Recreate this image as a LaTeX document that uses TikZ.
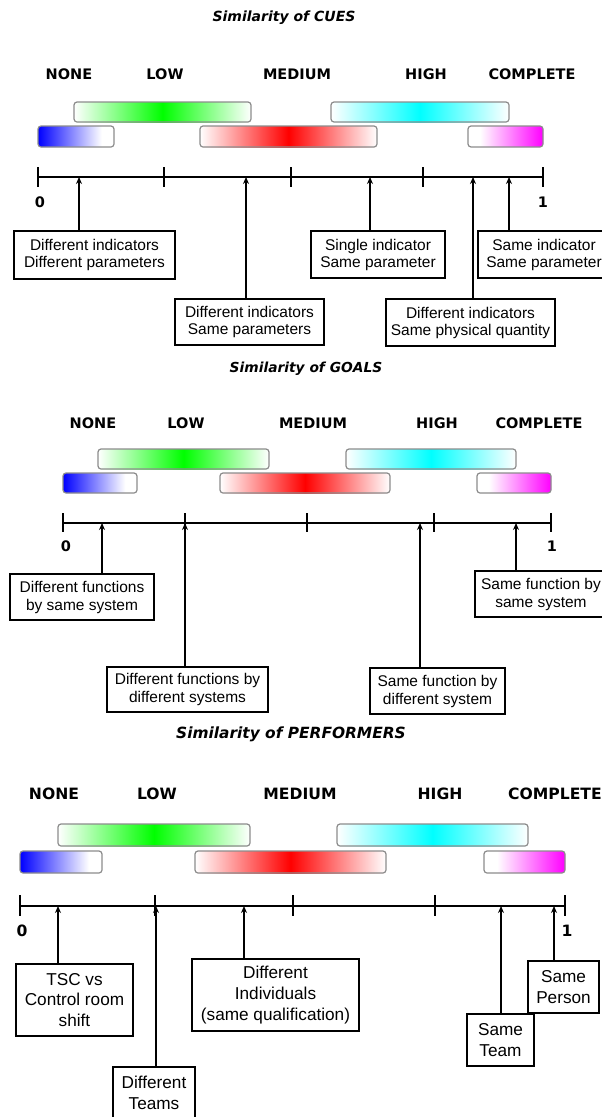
\documentclass[tikz,border=0pt]{standalone}
\usepackage{fontspec}
\setmainfont{Liberation Sans}
\newfontfamily\dvs{DejaVu Sans}
\usetikzlibrary{arrows.meta}
\pgfdeclarehorizontalshading{gshade}{100bp}{color(0bp)=(white); color(25bp)=(white); color(50bp)=(green); color(75bp)=(white); color(100bp)=(white)}
\pgfdeclarehorizontalshading{cshade}{100bp}{color(0bp)=(white); color(25bp)=(white); color(50bp)=(cyan); color(75bp)=(white); color(100bp)=(white)}
\pgfdeclarehorizontalshading{rshade}{100bp}{color(0bp)=(white); color(25bp)=(white); color(50bp)=(red); color(75bp)=(white); color(100bp)=(white)}
\pgfdeclarehorizontalshading{bshade}{100bp}{color(0bp)=(blue); color(25bp)=(blue); color(67bp)=(white); color(100bp)=(white)}
\pgfdeclarehorizontalshading{mshade}{100bp}{color(0bp)=(white); color(33bp)=(white); color(75bp)=(magenta); color(100bp)=(magenta)}
\tikzset{
  bar/.style={draw=black!45, line width=1.2pt, rounded corners=3pt},
  axisline/.style={line width=1.6pt},
  tick/.style={line width=1.4pt},
  arr/.style={line width=1.6pt, -{Stealth[length=7pt,width=6pt]}},
  box/.style={draw, line width=1.7pt, align=center, inner sep=0pt, fill=white},
  boxa/.style={box, font=\fontsize{15.5}{17}\selectfont},
  boxb/.style={box, font=\fontsize{15.5}{18}\selectfont},
  boxc/.style={box, font=\fontsize{17.2}{20.8}\selectfont},
  lab/.style={font=\dvs\bfseries\fontsize{14.5}{16}\selectfont, inner sep=0pt},
  labc/.style={font=\dvs\bfseries\fontsize{15.6}{17}\selectfont, inner sep=0pt},
  ttl/.style={font=\dvs\bfseries\itshape\fontsize{14}{16}\selectfont, inner sep=0pt},
  ttlb/.style={font=\dvs\bfseries\itshape\fontsize{13.8}{16}\selectfont, inner sep=0pt},
  ttlc/.style={font=\dvs\bfseries\itshape\fontsize{15.4}{17}\selectfont, inner sep=0pt},
}
\begin{document}
\begin{tikzpicture}[x=1pt,y=-1pt]
\useasboundingbox (0,0) rectangle (602,1117);
\clip (0,0) rectangle (602,1117);
\fill[white] (0,0) rectangle (602,1117);

% ================= Panel 1: CUES =================
\node[ttl] (t1) at (284,18) {Similarity of CUES};
\node[lab] (n1) at (69,74) {NONE};
\node[lab] (l1) at (165,74) {LOW};
\node[lab] (m1) at (297,74) {MEDIUM};
\node[lab] (h1) at (426,74) {HIGH};
\node[lab] (k1) at (532,74) {COMPLETE};
\shade[shading=gshade] (74,102) rectangle (251,122);
\draw[bar] (74,102) rectangle (251,122);
\shade[shading=cshade] (331,102) rectangle (509,122);
\draw[bar] (331,102) rectangle (509,122);
\shade[shading=bshade, rounded corners=3pt] (38,126) rectangle (114,147);
\draw[bar] (38,126) rectangle (114,147);
\shade[shading=rshade] (200,126) rectangle (377,147);
\draw[bar] (200,126) rectangle (377,147);
\shade[shading=mshade, rounded corners=3pt] (468,126) rectangle (543,147);
\draw[bar] (468,126) rectangle (543,147);
\coordinate (s1) at (38,177);
\coordinate (e1) at (543,177);
\draw[axisline] (s1) -- (e1);
\foreach \x in {38,164,291,423,543} \draw[tick] (\x,167) -- (\x,187);
\node[lab] (z1) at (40,202) {0};
\node[lab] (o1) at (543,202) {1};
\coordinate (xa) at (79,177);
\coordinate (xb) at (246,177);
\coordinate (xc) at (370,177);
\coordinate (xd) at (509,177);
\coordinate (xe) at (473,177);
\node[boxa, minimum width=161pt, minimum height=48pt] (c1a) at (94.5,255) {Different indicators\\Different parameters};
\node[boxa, minimum width=149pt, minimum height=46pt] (c1b) at (249.5,322) {Different indicators\\Same parameters};
\node[boxa, minimum width=134pt, minimum height=47pt] (c1c) at (378,254.5) {Single indicator\\Same parameter};
\node[boxa, minimum width=132pt, minimum height=47pt] (c1d) at (544,254.5) {Same indicator\\Same parameter};
\node[boxa, minimum width=169pt, minimum height=47pt] (c1e) at (470.5,322.5) {Different indicators\\Same physical quantity};
\draw[arr] (c1a.north -| xa) -- (xa);
\draw[arr] (c1b.north -| xb) -- (xb);
\draw[arr] (c1c.north -| xc) -- (xc);
\draw[arr] (c1d.north -| xd) -- (xd);
\draw[arr] (c1e.north -| xe) -- (xe);

% ================= Panel 2: GOALS =================
\node[ttlb] (t2) at (306,369) {Similarity of GOALS};
\node[lab] (n2) at (93,423) {NONE};
\node[lab] (l2) at (186,423) {LOW};
\node[lab] (m2) at (313,423) {MEDIUM};
\node[lab] (h2) at (437,423) {HIGH};
\node[lab] (k2) at (539,423) {COMPLETE};
\shade[shading=gshade] (98,449) rectangle (269,469);
\draw[bar] (98,449) rectangle (269,469);
\shade[shading=cshade] (346,449) rectangle (516,469);
\draw[bar] (346,449) rectangle (516,469);
\shade[shading=bshade, rounded corners=3pt] (63,473) rectangle (137,493);
\draw[bar] (63,473) rectangle (137,493);
\shade[shading=rshade] (220,473) rectangle (390,493);
\draw[bar] (220,473) rectangle (390,493);
\shade[shading=mshade, rounded corners=3pt] (477,473) rectangle (551,493);
\draw[bar] (477,473) rectangle (551,493);
\coordinate (s2) at (63,523);
\coordinate (e2) at (551,523);
\draw[axisline] (s2) -- (e2);
\foreach \x in {63,185,307,434,551} \draw[tick] (\x,513) -- (\x,532);
\node[lab] (z2) at (66,546) {0};
\node[lab] (o2) at (552,546) {1};
\coordinate (ga) at (102,523);
\coordinate (gb) at (185,523);
\coordinate (gc) at (420,523);
\coordinate (gd) at (516,523);
\node[boxb, minimum width=144pt, minimum height=46pt] (g1) at (82,597) {Different functions\\by same system};
\node[boxb, minimum width=161pt, minimum height=45pt] (g2) at (187.5,689.5) {Different functions by\\different systems};
\node[boxb, minimum width=135pt, minimum height=46pt] (g3) at (437.5,691) {Same function by\\different system};
\node[boxb, minimum width=132pt, minimum height=46pt] (g4) at (541,594) {Same function by\\same system};
\draw[arr] (g1.north -| ga) -- (ga);
\draw[arr] (g2.north -| gb) -- (gb);
\draw[arr] (g3.north -| gc) -- (gc);
\draw[arr] (g4.north -| gd) -- (gd);

% ================= Panel 3: PERFORMERS =================
\node[ttlc] (t3) at (291,734) {Similarity of PERFORMERS};
\node[labc] (n3) at (54,794) {NONE};
\node[labc] (l3) at (157,794) {LOW};
\node[labc] (m3) at (300,794) {MEDIUM};
\node[labc] (h3) at (440,794) {HIGH};
\node[labc] (k3) at (555,794) {COMPLETE};
\shade[shading=gshade] (58,824) rectangle (250,846);
\draw[bar] (58,824) rectangle (250,846);
\shade[shading=cshade] (337,824) rectangle (528,846);
\draw[bar] (337,824) rectangle (528,846);
\shade[shading=bshade, rounded corners=3pt] (20,851) rectangle (102,873);
\draw[bar] (20,851) rectangle (102,873);
\shade[shading=rshade] (195,851) rectangle (386,873);
\draw[bar] (195,851) rectangle (386,873);
\shade[shading=mshade, rounded corners=3pt] (484,851) rectangle (565,873);
\draw[bar] (484,851) rectangle (565,873);
\coordinate (s3) at (20,906);
\coordinate (e3) at (565,906);
\draw[axisline] (s3) -- (e3);
\foreach \x in {20,155,293,435,565} \draw[tick] (\x,895) -- (\x,916);
\node[labc] (z3) at (22,931) {0};
\node[labc] (o3) at (567,931) {1};
\coordinate (pa) at (58,906);
\coordinate (pb) at (156,906);
\coordinate (pc) at (244,906);
\coordinate (pd) at (501,906);
\coordinate (pe) at (554,906);
\node[boxc, minimum width=117pt, minimum height=72pt] (p1) at (74.5,1000) {TSC vs\\Control room\\shift};
\node[boxc, minimum width=82pt, minimum height=52pt] (p2) at (154,1093) {Different\\Teams};
\node[boxc, minimum width=167pt, minimum height=72pt] (p3) at (275.5,995) {Different\\Individuals\\(same qualification)};
\node[boxc, minimum width=67pt, minimum height=52pt] (p4) at (500.5,1040) {Same\\Team};
\node[boxc, minimum width=71pt, minimum height=52pt] (p5) at (563.5,987) {Same\\Person};
\draw[arr] (p1.north -| pa) -- (pa);
\draw[arr] (p2.north -| pb) -- (pb);
\draw[arr] (p3.north -| pc) -- (pc);
\draw[arr] (p4.north -| pd) -- (pd);
\draw[arr] (p5.north -| pe) -- (pe);
\end{tikzpicture}
\end{document}
